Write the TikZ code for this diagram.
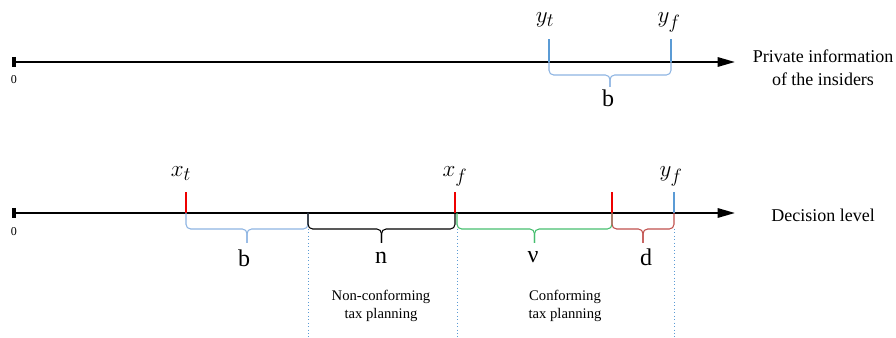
\documentclass[tikz,border=0pt]{standalone}
\usepackage[no-math]{fontspec}
\setmainfont{Liberation Serif}
\usetikzlibrary{arrows.meta, calc}

\definecolor{tickred}{RGB}{238,0,0}
\definecolor{tickblue}{RGB}{91,155,213}
\definecolor{brblue}{RGB}{141,180,226}
\definecolor{brgreen}{RGB}{70,190,110}
\definecolor{brred}{RGB}{192,80,77}

% #1 colour, #2 left end, #3 right end, #4 depth of the bar, #5 depth of the tip
\newcommand{\segbrace}[5]{%
  \draw[brc, draw=#1] (#2) -- ++(0,#4) -- ($(#2)!.5!(#3)+(0,#4)$) -- ++(0,#5-#4);
  \draw[brc, draw=#1] (#3) -- ++(0,#4) -- ($(#2)!.5!(#3)+(0,#4)$) -- ++(0,#5-#4);
}

\begin{document}
\begin{tikzpicture}[
    x=0.75pt, y=-0.75pt,
    axis/.style={line width=1.5pt, -{Triangle[length=13pt, width=7pt]}},
    origin/.style={line width=2.4pt},
    redtick/.style={line width=2.2pt, draw=tickred},
    bluetick/.style={line width=2.2pt, draw=tickblue},
    brc/.style={line width=0.8pt, rounded corners=3.5pt},
    guide/.style={draw=tickblue, dotted, line width=0.6pt},
    ptlab/.style={font=\fontsize{19}{19}\selectfont, anchor=base},
    zero/.style={font=\fontsize{9}{10}\selectfont},
    seg/.style={font=\fontsize{18}{18}\selectfont},
    axlab/.style={font=\fontsize{13.5}{17}\selectfont, align=center},
    area/.style={font=\fontsize{11}{14}\selectfont, align=center}
]
\useasboundingbox (0,0) rectangle (896,338);

% private information axis
\coordinate (o1) at (14,62);
\coordinate (e1) at (735,62);
\coordinate (yt) at (549,62);
\coordinate (yf) at (671,62);

\draw[axis] (o1) -- (e1);
\draw[origin] (o1) ++(0,-5) -- ++(0,10);
\node[zero] (z1) at (14,80) {0};
\draw[bluetick] (yt) -- ++(0,-23);
\draw[bluetick] (yf) -- ++(0,-23);
\node[ptlab] (lyt) at (545,23) {$y_t$};
\node[ptlab] (lyf) at (669,23) {$y_f$};
\segbrace{brblue}{yt}{yf}{13}{25}
\node[seg] (lb1) at (608,98) {b};
\node[axlab] (info) at (823,68) {Private information\\of the insiders};

% decision axis
\coordinate (o2) at (14,213);
\coordinate (e2) at (735,213);
\coordinate (xt) at (186,213);
\coordinate (xn) at (308,213);
\coordinate (xf) at (455,213);
\coordinate (xc) at (457,213);
\coordinate (xr) at (612,213);
\coordinate (yf2) at (674,213);

\draw[axis] (o2) -- (e2);
\draw[origin] (o2) ++(0,-5) -- ++(0,10);
\node[zero] (z2) at (14,232) {0};
\foreach \t in {xt, xf, xr}
  \draw[redtick] (\t) -- ++(0,-21);
\draw[bluetick] (yf2) -- ++(0,-21);
\node[ptlab] (lxt) at (181,177) {$x_t$};
\node[ptlab] (lxf) at (455,177) {$x_f$};
\node[ptlab] (lyf2) at (671,177) {$y_f$};
\node[axlab] (dec) at (823,215) {Decision level};

\segbrace{brblue}{xt}{xn}{16}{30}
\segbrace{black}{xn}{xf}{16}{30}
\segbrace{brgreen}{xc}{xr}{16}{30}
\segbrace{brred}{xr}{yf2}{16}{30}
\node[seg] (lb2) at (244,258) {b};
\node[seg] (ln) at (381,258) {n};
\node[seg] (lv) at (533,257) {ν};
\node[seg] (ld) at (646,257) {d};

\foreach \g in {xn, xc, yf2}
  \draw[guide] (\g) ++(0,16) -- ++(0,109);

\node[area] (nonconf) at (381,306) {Non-conforming\\tax planning};
\node[area] (conf) at (565,306) {Conforming\\tax planning};

\end{tikzpicture}
\end{document}
